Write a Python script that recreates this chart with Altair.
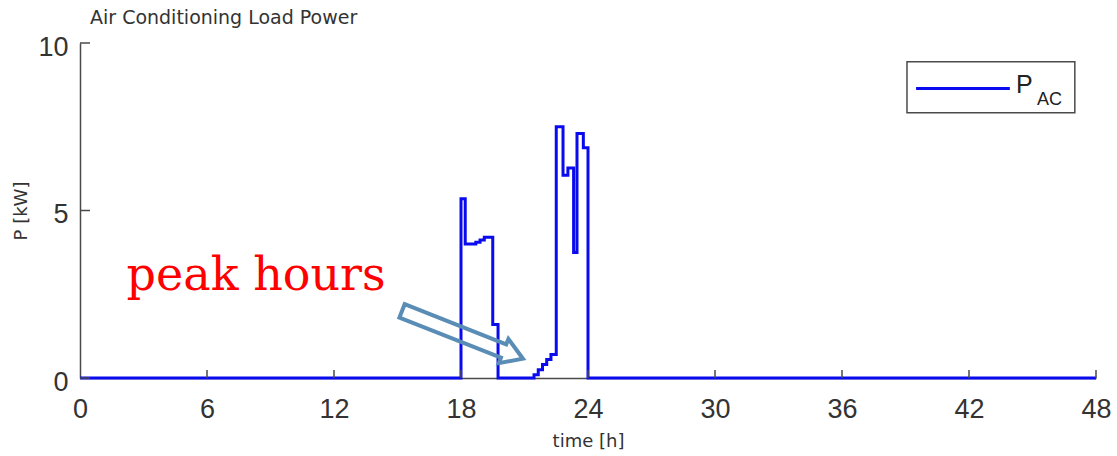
import altair as alt
import pandas as pd

# Air-conditioning load, sampled as a step signal (time in hours, power in kW)
time_h = [0, 18.0, 18.2, 18.7, 18.9, 19.1, 19.5, 19.75,
          21.45, 21.65, 21.85, 22.05, 22.25, 22.5, 22.82, 23.05, 23.32, 23.48, 23.78, 24.0, 48]
p_kw = [0, 5.35, 4.0, 4.05, 4.12, 4.2, 1.6, 0,
        0.1, 0.25, 0.4, 0.55, 0.7, 7.5, 6.05, 6.27, 3.75, 7.3, 6.87, 0, 0]

x_ticks = [0, 6, 12, 18, 24, 30, 36, 42, 48]
y_ticks = [0, 5, 10]

W, H = 1016, 335
AXIS = "#4a4a4a"
TEXT = "#333333"
BLUE = "#0a0aee"
ARROW = "#5a8db5"

load = pd.DataFrame({"time": time_h, "P": p_kw})

x_scale = alt.Scale(domain=[0, 48], nice=False, zero=False)
y_scale = alt.Scale(domain=[0, 10], nice=False)

x_axis = alt.Axis(
    values=x_ticks, title="time [h]", grid=False, ticks=False, tickSize=0,
    labelFont="Liberation Sans", labelFontSize=27, labelColor=TEXT,
    labelPadding=18, labelFlush=False, labelOverlap=False,
    domainColor=AXIS, domainWidth=1.5,
    titleFont="DejaVu Sans", titleFontSize=18, titleFontWeight="normal",
    titleColor=TEXT, titleX=W / 2, titleY=68, titleAlign="center",
    titleBaseline="alphabetic")
y_axis = alt.Axis(
    values=y_ticks, title="P [kW]", grid=False, ticks=False, tickSize=0,
    labelFont="Liberation Sans", labelFontSize=27, labelColor=TEXT,
    labelPadding=12, labelAlign="right", labelBaseline="alphabetic",
    labelOffset=12, labelFlush=False, labelOverlap=False,
    domainColor=AXIS, domainWidth=1.5,
    titleFont="DejaVu Sans", titleFontSize=18, titleFontWeight="normal",
    titleColor=TEXT, titleAngle=270, titleX=-54, titleY=H / 2,
    titleAlign="center", titleBaseline="alphabetic")


def xenc():
    return alt.X("time:Q", scale=x_scale, axis=x_axis)


def yenc():
    return alt.Y("P:Q", scale=y_scale, axis=y_axis)


line = alt.Chart(load).mark_line(
    interpolate="step-after", color=BLUE, strokeWidth=3, strokeJoin="miter"
).encode(x=xenc(), y=yenc())

# Inward-pointing tick marks
xt = pd.DataFrame({"time": x_ticks[1:]})
x_tick_marks = alt.Chart(xt).mark_rule(color=AXIS, strokeWidth=1.5).encode(
    x=xenc(), y=alt.value(H), y2=alt.value(H - 8))

yt = pd.DataFrame({"P": y_ticks})
y_tick_marks = alt.Chart(yt).mark_rule(color=AXIS, strokeWidth=1.5).encode(
    y=yenc(), x=alt.value(0), x2=alt.value(10))

# Annotation: label and hollow arrow pointing at the evening ramp
note = pd.DataFrame({"time": [2.2], "P": [2.64], "label": ["peak hours"]})
note_text = alt.Chart(note).mark_text(
    font="DejaVu Serif", fontSize=46, color="#ff0000", align="left",
    baseline="alphabetic"
).encode(x=xenc(), y=yenc(), text="label:N")

arrow_path = "M-1,-0.11L0.68,-0.11L0.68,-0.2L1,0L0.68,0.2L0.68,0.11L-1,0.11Z"
arrow_pos = pd.DataFrame({"time": [18.07], "P": [1.29]})
arrow = alt.Chart(arrow_pos).mark_point(
    shape=arrow_path, size=16900, angle=21.6, filled=False, color=ARROW,
    strokeWidth=4, opacity=1, strokeJoin="miter"
).encode(x=xenc(), y=yenc())

# Legend box
box = pd.DataFrame({"time": [39.07], "time2": [47.0], "P": [9.44], "P2": [7.92]})
legend_box = alt.Chart(box).mark_rect(
    fill="white", stroke=AXIS, strokeWidth=1.5
).encode(x=xenc(), x2="time2:Q", y=yenc(), y2="P2:Q")

sample = pd.DataFrame({"time": [39.5], "time2": [43.93], "P": [8.64]})
legend_line = alt.Chart(sample).mark_rule(color=BLUE, strokeWidth=3).encode(
    x=xenc(), x2="time2:Q", y=yenc())

lab_p = pd.DataFrame({"time": [44.22], "P": [8.5], "label": ["P"]})
legend_p = alt.Chart(lab_p).mark_text(
    font="Liberation Sans", fontSize=25, color="#222222", align="left",
    baseline="alphabetic"
).encode(x=xenc(), y=yenc(), text="label:N")

lab_sub = pd.DataFrame({"time": [45.21], "P": [8.16], "label": ["AC"]})
legend_sub = alt.Chart(lab_sub).mark_text(
    font="Liberation Sans", fontSize=18, color="#222222", align="left",
    baseline="alphabetic"
).encode(x=xenc(), y=yenc(), text="label:N")

chart = alt.layer(
    line, x_tick_marks, y_tick_marks, arrow, note_text,
    legend_box, legend_line, legend_p, legend_sub
).properties(
    width=W, height=H,
    title=alt.TitleParams(
        "Air Conditioning Load Power", anchor="start", frame="group", dx=10,
        dy=20, offset=10, font="DejaVu Sans", fontSize=19, fontWeight="normal",
        color=TEXT, baseline="alphabetic"),
    autosize=alt.AutoSizeParams(type="none"),
    padding={"left": 80, "top": 43, "right": 21, "bottom": 78},
).configure(background="white").configure_view(stroke=None)

chart.save("out.html", embed_options={"renderer": "svg", "actions": False})
